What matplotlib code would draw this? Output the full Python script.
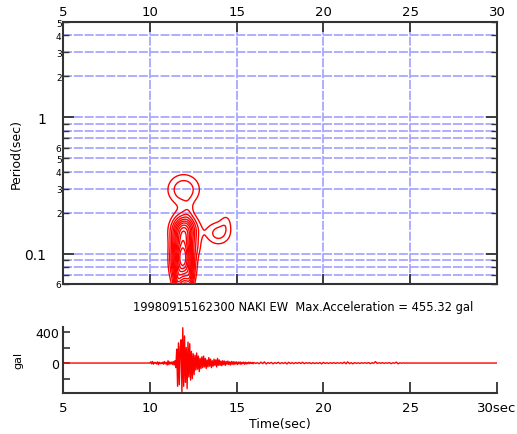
import numpy as np
import matplotlib
matplotlib.use("Agg")
import matplotlib.pyplot as plt
from matplotlib.ticker import FixedLocator, FixedFormatter

# ---------------- data ----------------
title_text = "19980915162300 NAKI EW  Max.Acceleration = 455.32 gal"
x_ticks = [5, 10, 15, 20, 25, 30]
x_tick_labels_top = ["5", "10", "15", "20", "25", "30"]
x_tick_labels_bot = ["5", "10", "15", "20", "25", "30sec"]
y_major = [0.1, 1]
y_major_labels = ["0.1", "1"]
y_minor = [0.06, 0.07, 0.08, 0.09, 0.2, 0.3, 0.4, 0.5, 0.6, 0.7, 0.8, 0.9, 2, 3, 4, 5]
y_minor_labels = ["6", "", "", "", "2", "3", "4", "5", "6", "", "", "", "2", "3", "4", "5"]
grid_periods = [0.07, 0.08, 0.09, 0.1, 0.2, 0.3, 0.4, 0.5, 0.6, 0.7, 0.8, 0.9, 1, 2, 3, 4]
grid_times = [10, 15, 20, 25]

# wavelet-spectrum energy blobs: centre time, centre log10(period), widths, amplitude
blob_t = [11.9, 12.0, 11.95, 13.95, 12.2, 12.75, 11.6, 12.3, 14.4]
blob_lp = [-1.03, -0.82, -0.53, -0.85, -0.69, -0.95, -1.2, -1.18, -0.76]
blob_st = [0.40, 0.50, 0.70, 0.55, 0.20, 0.20, 0.15, 0.15, 0.25]
blob_slp = [0.13, 0.07, 0.085, 0.065, 0.06, 0.05, 0.06, 0.06, 0.05]
blob_amp = [1.0, 0.45, 0.23, 0.20, 0.05, 0.06, 0.2, 0.18, 0.08]
contour_levels = [0.1, 0.17, 0.24, 0.31, 0.38, 0.45, 0.52, 0.6, 0.68, 0.76, 0.84, 0.92]

# acceleration record (gal)
acc_t0_main, acc_dt_main = 10.0, 0.05
acc_main = [0, 15, -10, 20, -15, 10, -5, 8, -12, 15,
            -20, 10, -8, 5, -10, 12, -15, 20, -10, 8,
            -25, 30, -20, 15, -10, 12, -18, 20, -25, 30,
            -60, 180, -300, 260, -280, 200, 300, -380, 455, -300,
            350, -250, 200, -330, 270, -180, 250, -220, 150, -200,
            120, -150, 100, -90, 130, -80, 90, -110, 60, -70,
            80, -60, 90, -50, 60, -70, 40, -50, 70, -40,
            50, -60, 30, -40, 50, -30, 40, -50, 60, -30,
            40, -30, 25, -35, 30, -20, 25, -30, 20, -15,
            25, -20, 15, -25, 20, -15, 18, -20, 15, -12,
            15, -20, 12, -10, 15, -18, 10, -8, 12, -15,
            10, -12, 8, -10, 12, -8, 10, -6, 8, -10]
acc_t0_tail, acc_dt_tail = 16.0, 0.1
acc_tail = [8, -6, 5, -10, 12, -8, 15, -12, 6, -5,
            8, -10, 6, -5, 10, -8, 5, -6, 8, -12,
            10, -6, 5, -8, 6, -5, 8, -6, 10, -8,
            5, -4, 6, -8, 5, -6, 4, -5, 6, -10,
            8, -5, 4, -6, 5, -4, 6, -5, 4, -3,
            5, -6, 12, -10, 15, -8, 5, -10, 6, -4,
            3, -5, 4, -3, 5, -4, 6, -8, 4, -3,
            18, -5, 4, -3, 5, -4, 3, -2, 6, -8,
            4, -3, 12, -10, 3, -2, 2, -2, 1, 0]

# ---------------- figure ----------------
W, H = 517, 435
fig = plt.figure(figsize=(W / 100, H / 100), dpi=100)
spine_col = "#333333"
grid_col = "#a8a8ff"
red = "#ff0000"

def fx(px):
    return px / W

def fy(py):
    return 1 - py / H

# top axes
L, R = 63, 497
ax = fig.add_axes([fx(L), fy(285), fx(R) - fx(L), fy(23) - fy(285)])
ax.set_xlim(5, 30)
ax.set_yscale("log")
ax.set_ylim(0.06, 5)

for p in grid_periods:
    ax.axhline(p, color=grid_col, lw=1.3, ls=(0, (5, 1)), zorder=1)
for t in grid_times:
    ax.axvline(t, color=grid_col, lw=1.3, ls=(0, (5, 1)), zorder=1)

tg = np.linspace(5, 30, 800)
lpg = np.linspace(np.log10(0.05), np.log10(5.5), 500)
T, LP = np.meshgrid(tg, lpg)
Z = np.zeros_like(T)
for t0, lp0, st, slp, a in zip(blob_t, blob_lp, blob_st, blob_slp, blob_amp):
    Z += a * np.exp(-0.5 * (((T - t0) / st) ** 2 + ((LP - lp0) / slp) ** 2))
ax.contour(T, 10 ** LP, Z, levels=contour_levels, colors=red, linewidths=1.0, zorder=3)

ax.xaxis.set_ticks_position("both")
ax.xaxis.set_major_locator(FixedLocator(x_ticks))
ax.xaxis.set_major_formatter(FixedFormatter(x_tick_labels_top))
ax.tick_params(axis="x", which="major", direction="in", length=7, width=1.3,
               top=True, bottom=True, labeltop=True, labelbottom=False,
               labelsize=9.5, pad=3, color=spine_col)
ax.yaxis.set_major_locator(FixedLocator(y_major))
ax.yaxis.set_major_formatter(FixedFormatter(y_major_labels))
ax.yaxis.set_minor_locator(FixedLocator(y_minor))
ax.yaxis.set_minor_formatter(FixedFormatter(y_minor_labels))
ax.tick_params(axis="y", which="major", direction="in", length=8, width=1.3,
               left=True, right=True, labelsize=10, pad=12, color=spine_col)
ax.tick_params(axis="y", which="minor", direction="in", length=4, width=1.0,
               left=True, right=True, labelsize=6.5, pad=1, color=spine_col)
for s in ax.spines.values():
    s.set_color(spine_col)
    s.set_linewidth(1.5)
ax.set_ylabel("Period(sec)", fontsize=9)
ax.yaxis.set_label_coords(-40 / 434, 0.5)

# title
fig.text(fx(303), fy(308), title_text, ha="center", va="center", fontsize=8.3)

# bottom axes
bx = fig.add_axes([fx(L), fy(393.5), fx(R) - fx(L), fy(327.6) - fy(393.5)])
bx.set_xlim(5, 30)
bx.set_ylim(-380, 470)
tm = acc_t0_main + acc_dt_main * np.arange(len(acc_main))
tt = acc_t0_tail + acc_dt_tail * np.arange(len(acc_tail))
t_all = np.concatenate([[5.0], tm, tt, [25.0, 30.0]])
a_all = np.concatenate([[0.0], acc_main, acc_tail, [0.0, 0.0]])
bx.plot(t_all, a_all, color=red, lw=1.0, clip_on=True)
bx.spines["top"].set_visible(False)
bx.spines["right"].set_visible(False)
for s in ["left", "bottom"]:
    bx.spines[s].set_color(spine_col)
    bx.spines[s].set_linewidth(1.5)
bx.xaxis.set_major_locator(FixedLocator(x_ticks))
bx.xaxis.set_major_formatter(FixedFormatter(x_tick_labels_bot))
bx.tick_params(axis="x", direction="in", length=8, width=1.3, labelsize=9.5,
               pad=6, color=spine_col)
bx.set_yticks([-200, 0, 200, 400])
bx.set_yticklabels(["", "0", "", "400"])
bx.tick_params(axis="y", direction="in", length=5, width=1.2, labelsize=9,
               pad=3, color=spine_col)
bx.set_xlabel("Time(sec)", fontsize=9, labelpad=2)
bx.set_ylabel("gal", fontsize=8)
bx.yaxis.set_label_coords(-40 / 434, 0.5)

fig.savefig("out.png", dpi=100)
